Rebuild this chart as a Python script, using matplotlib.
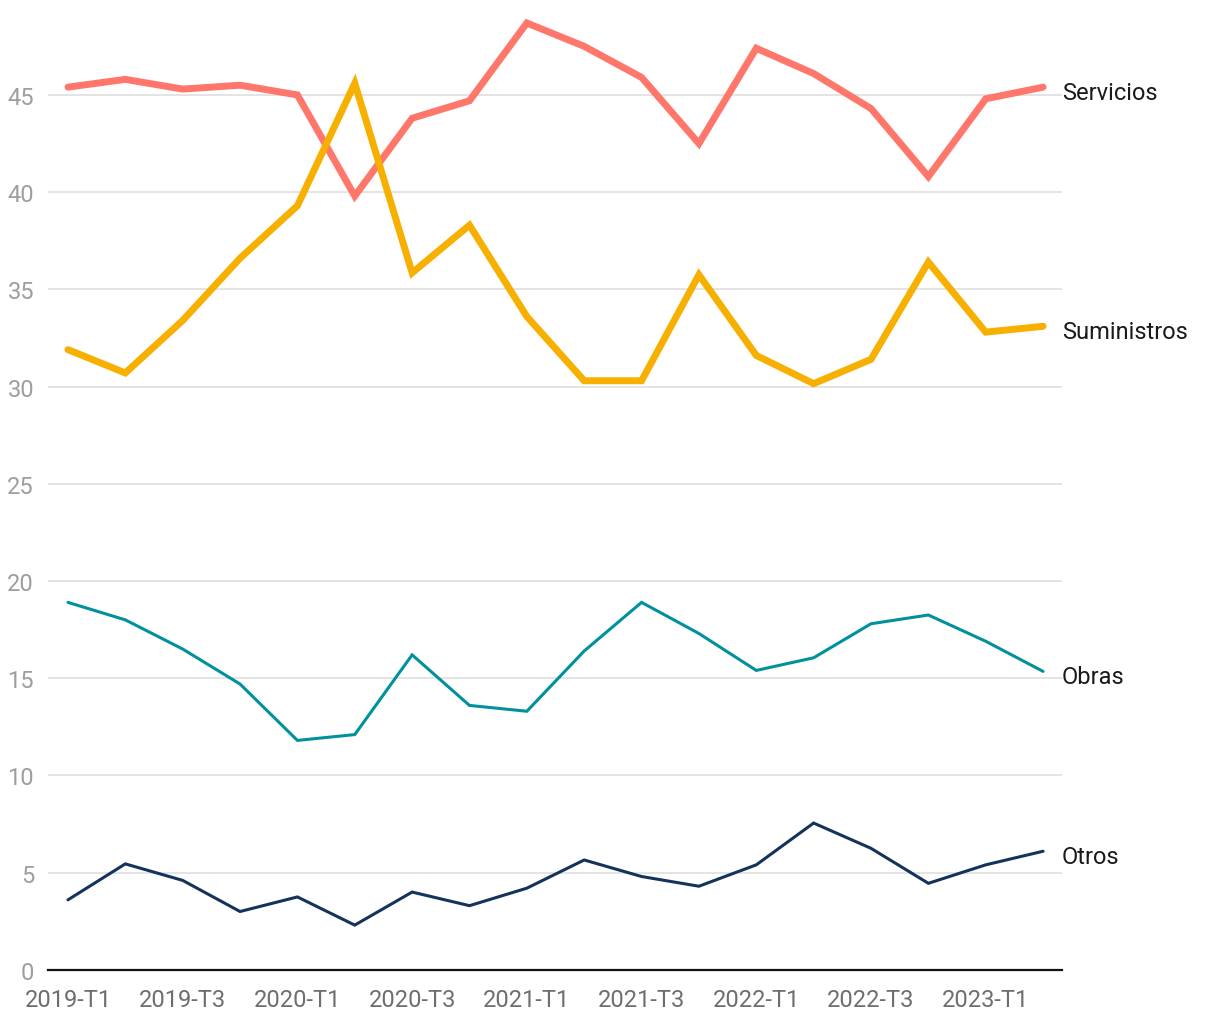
import numpy as np
import matplotlib
matplotlib.use("Agg")
import matplotlib.pyplot as plt

plt.rcParams['font.family'] = ['Roboto', 'DejaVu Sans']

quarters = ['2019-T1', '2019-T2', '2019-T3', '2019-T4',
            '2020-T1', '2020-T2', '2020-T3', '2020-T4',
            '2021-T1', '2021-T2', '2021-T3', '2021-T4',
            '2022-T1', '2022-T2', '2022-T3', '2022-T4',
            '2023-T1', '2023-T2']

servicios = [45.4, 45.8, 45.3, 45.5, 45.0, 39.8, 43.8, 44.7, 48.7, 47.5,
             45.9, 42.5, 47.4, 46.1, 44.3, 40.8, 44.8, 45.4]
suministros = [31.9, 30.7, 33.4, 36.6, 39.3, 45.6, 35.85, 38.3, 33.6, 30.3,
               30.3, 35.75, 31.6, 30.15, 31.4, 36.4, 32.8, 33.1]
obras = [18.9, 18.0, 16.5, 14.7, 11.8, 12.1, 16.2, 13.6, 13.3, 16.4,
         18.9, 17.3, 15.4, 16.05, 17.8, 18.25, 16.9, 15.35]
otros = [3.6, 5.45, 4.6, 3.0, 3.75, 2.3, 4.0, 3.3, 4.2, 5.65,
         4.8, 4.3, 5.4, 7.55, 6.25, 4.45, 5.4, 6.1]

series = [
    ('Servicios', servicios, '#ff766b', 5.0),
    ('Suministros', suministros, '#f7b000', 5.0),
    ('Obras', obras, '#00919c', 2.2),
    ('Otros', otros, '#14335a', 2.2),
]

fig = plt.figure(figsize=(12.2, 10.2), dpi=100)
ax = fig.add_axes([0.0393, 0.0482, 0.8312, 0.934])

x = np.arange(len(quarters))
for name, vals, col, lw in series:
    ax.plot(x, vals, color=col, lw=lw, solid_capstyle='round',
            solid_joinstyle='miter', zorder=3)
    # label sits slightly below the last point, like the original
    ax.annotate(name, xy=(1.0, vals[-1]), xycoords=('axes fraction', 'data'),
                xytext=(0, -3.5), textcoords='offset points',
                ha='left', va='center', fontsize=17, color='#1a1a1a')

ax.set_xlim(-0.349, 17.33)
ax.set_ylim(0, 49)
ax.set_yticks(range(0, 50, 5))
ax.set_xticks(x[::2])
ax.set_xticklabels(quarters[::2])

ax.grid(axis='y', color='#e2e2e2', lw=1.3, zorder=0)
ax.grid(axis='x', visible=False)
for s in ['top', 'right', 'left']:
    ax.spines[s].set_visible(False)
ax.spines['bottom'].set_color('#111111')
ax.spines['bottom'].set_linewidth(1.6)
ax.spines['bottom'].set_zorder(4)

ax.tick_params(axis='y', length=0, pad=10, labelsize=17, labelcolor='#9e9e9e')
ax.tick_params(axis='x', length=0, pad=13, labelsize=17, labelcolor='#6e6e6e')

plt.savefig('out.png', dpi=100)
